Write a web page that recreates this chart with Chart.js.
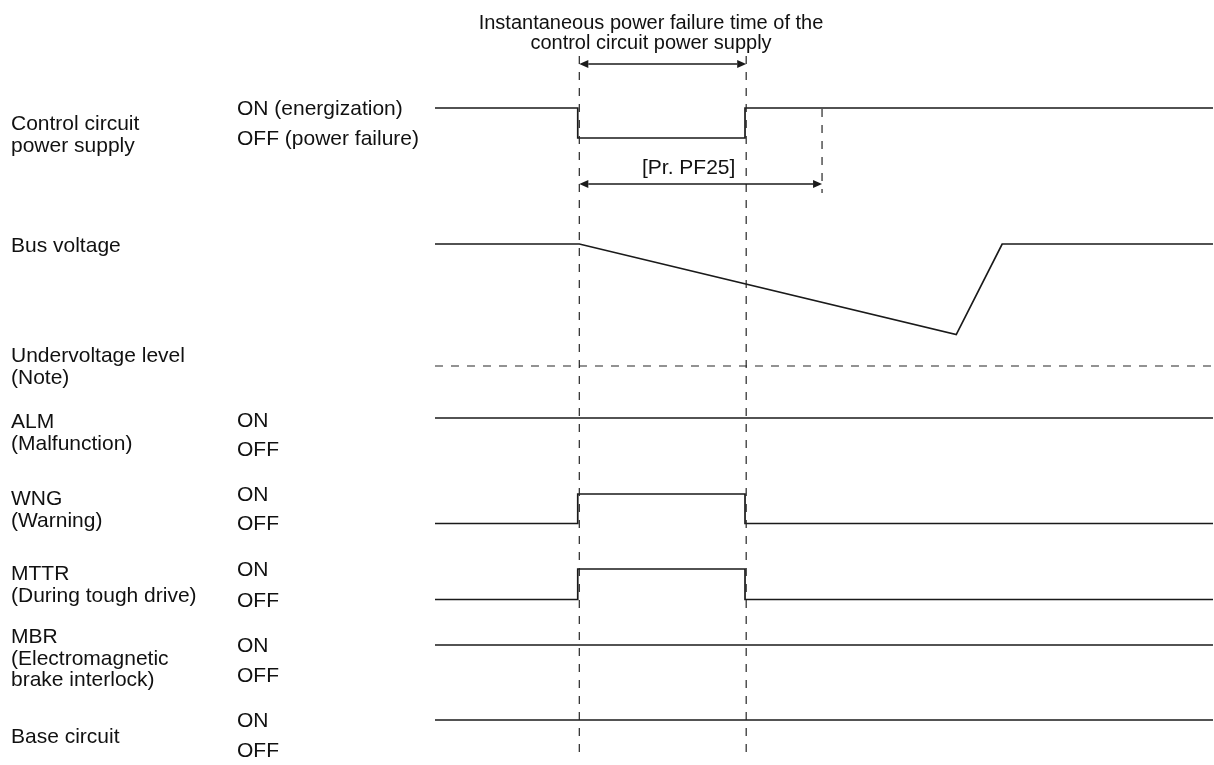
<!DOCTYPE html>
<html>
<head>
<meta charset="utf-8">
<title>Instantaneous power failure timing chart</title>
<script src="https://cdn.jsdelivr.net/npm/chart.js@4.4.1/dist/chart.umd.min.js"></script>
<style>
    body { margin: 0; background: #ffffff; }
    #wrap {
        position: relative;
        width: 1214px;
        height: 765px;
        overflow: hidden;
        font-family: "Liberation Sans", Arial, sans-serif;
        color: #111111;
    }
    #wrap canvas { position: absolute; left: 0; top: 0; }
    .lbl { position: absolute; font-size: 21px; line-height: 21.5px; white-space: nowrap; }
    .title { font-size: 20px; line-height: 20px; text-align: center; width: 400px; }
</style>
</head>
<body>
<div id="wrap">
    <canvas id="timing" width="1214" height="765"></canvas>

    <div class="lbl title" style="left:451px; top:12px;">Instantaneous power failure time of the<br>control circuit power supply</div>
    <div class="lbl" style="left:642px; top:156px;">[Pr. PF25]</div>

    <div class="lbl" style="left:11px; top:112px;">Control circuit<br>power supply</div>
    <div class="lbl" style="left:237px; top:97px;">ON (energization)</div>
    <div class="lbl" style="left:237px; top:127px;">OFF (power failure)</div>

    <div class="lbl" style="left:11px; top:234px;">Bus voltage</div>
    <div class="lbl" style="left:11px; top:344px;">Undervoltage level<br>(Note)</div>

    <div class="lbl" style="left:11px; top:410px;">ALM<br>(Malfunction)</div>
    <div class="lbl" style="left:237px; top:409px;">ON</div>
    <div class="lbl" style="left:237px; top:438px;">OFF</div>

    <div class="lbl" style="left:11px; top:487px;">WNG<br>(Warning)</div>
    <div class="lbl" style="left:237px; top:483px;">ON</div>
    <div class="lbl" style="left:237px; top:512px;">OFF</div>

    <div class="lbl" style="left:11px; top:562px;">MTTR<br>(During tough drive)</div>
    <div class="lbl" style="left:237px; top:558px;">ON</div>
    <div class="lbl" style="left:237px; top:589px;">OFF</div>

    <div class="lbl" style="left:11px; top:625px;">MBR<br>(Electromagnetic<br>brake interlock)</div>
    <div class="lbl" style="left:237px; top:634px;">ON</div>
    <div class="lbl" style="left:237px; top:664px;">OFF</div>

    <div class="lbl" style="left:11px; top:725px;">Base circuit</div>
    <div class="lbl" style="left:237px; top:709px;">ON</div>
    <div class="lbl" style="left:237px; top:739px;">OFF</div>
</div>

<script>
// Event times (arbitrary time units: 0 = left end of the traces, 100 = right end)
const tStart = 0;
const tFall = 18.35;      // control power drops / WNG, MTTR switch on
const tRise = 39.85;      // control power back / WNG, MTTR switch off
const tEnd = 100;
const markerTimes = [18.55, 40.0];   // dashed guide lines
const tPF25End = 49.75;              // end of [Pr. PF25]

// Logic signals (1 = ON, 0 = OFF), state holds from each time until the next
const stepTimes = [tStart, tFall, tRise, tEnd];
const controlPower = [1, 0, 1, 1];
const almState = [1, 1, 1, 1];
const wngState = [0, 1, 0, 0];
const mttrState = [0, 1, 0, 0];
const mbrState = [1, 1, 1, 1];
const baseState = [1, 1, 1, 1];

// Bus voltage in % of nominal
const busTimes = [tStart, 18.55, 67.0, 72.9, tEnd];
const busVoltage = [100, 100, 74, 100, 100];
const undervoltageLevel = 65;

// Layout: pixel rows for the ON / OFF level of each trace
const rowControl = { on: 108, off: 138 };
const rowAlm = { on: 418, off: 448 };
const rowWng = { on: 494, off: 523.5 };
const rowMttr = { on: 569, off: 599.5 };
const rowMbr = { on: 645, off: 675 };
const rowBase = { on: 720, off: 750 };
const busTop = 244;          // row of 100 %
const busPxPerPercent = 3.486;
const guideTop = 56;
const guideBottom = 752;
const pfGuideTop = 109;
const pfGuideBottom = 193;

const dimArrows = [
    { from: markerTimes[0], to: markerTimes[1], y: 64 },
    { from: markerTimes[0], to: tPF25End, y: 184 }
];

const lineColor = '#1a1a1a';
const dashColor = '#262626';

function stateLine(states, row) {
    return stepTimes.map((t, i) => ({ x: t, y: row.off + (row.on - row.off) * states[i] }));
}

function busY(v) {
    return busTop + (100 - v) * busPxPerPercent;
}

function signalDataset(data) {
    return {
        data: data,
        showLine: true,
        stepped: 'before',
        borderColor: lineColor,
        borderWidth: 1.7,
        pointRadius: 0,
        fill: false
    };
}

function dashedDataset(data) {
    return {
        data: data,
        showLine: true,
        borderColor: dashColor,
        borderWidth: 1.2,
        borderDash: [8, 8],
        pointRadius: 0,
        fill: false
    };
}

// Build datasets
const datasets = [];

markerTimes.forEach(t => {
    datasets.push(dashedDataset([{ x: t, y: guideTop }, { x: t, y: guideBottom }]));
});
datasets.push(dashedDataset([{ x: tPF25End, y: pfGuideTop }, { x: tPF25End, y: pfGuideBottom }]));
datasets.push(dashedDataset([
    { x: tStart, y: busY(undervoltageLevel) },
    { x: tEnd, y: busY(undervoltageLevel) }
]));

datasets.push(signalDataset(stateLine(controlPower, rowControl)));
datasets.push(signalDataset(stateLine(almState, rowAlm)));
datasets.push(signalDataset(stateLine(wngState, rowWng)));
datasets.push(signalDataset(stateLine(mttrState, rowMttr)));
datasets.push(signalDataset(stateLine(mbrState, rowMbr)));
datasets.push(signalDataset(stateLine(baseState, rowBase)));

const busDs = signalDataset(busTimes.map((t, i) => ({ x: t, y: busY(busVoltage[i]) })));
busDs.stepped = false;
busDs.tension = 0;
datasets.push(busDs);

// Double-headed dimension arrows
const arrowPlugin = {
    id: 'dimArrows',
    afterDatasetsDraw(chart) {
        const ctx = chart.ctx;
        const xs = chart.scales.x;
        const ys = chart.scales.y;
        const head = 9;
        const half = 4;
        ctx.save();
        ctx.strokeStyle = lineColor;
        ctx.fillStyle = lineColor;
        ctx.lineWidth = 1.3;
        dimArrows.forEach(a => {
            const x1 = xs.getPixelForValue(a.from);
            const x2 = xs.getPixelForValue(a.to);
            const y = ys.getPixelForValue(a.y);
            ctx.beginPath();
            ctx.moveTo(x1 + head, y);
            ctx.lineTo(x2 - head, y);
            ctx.stroke();
            ctx.beginPath();
            ctx.moveTo(x1, y);
            ctx.lineTo(x1 + head, y - half);
            ctx.lineTo(x1 + head, y + half);
            ctx.closePath();
            ctx.fill();
            ctx.beginPath();
            ctx.moveTo(x2, y);
            ctx.lineTo(x2 - head, y - half);
            ctx.lineTo(x2 - head, y + half);
            ctx.closePath();
            ctx.fill();
        });
        ctx.restore();
    }
};

const ctx = document.getElementById('timing').getContext('2d');
const timingChart = new Chart(ctx, {
    type: 'scatter',
    data: { datasets: datasets },
    options: {
        responsive: false,
        animation: false,
        devicePixelRatio: 1,
        layout: { padding: 0 },
        plugins: {
            legend: { display: false },
            tooltip: { enabled: false }
        },
        scales: {
            x: { type: 'linear', display: false, min: -55.91, max: 100.13 },
            y: { type: 'linear', display: false, min: 0, max: 765, reverse: true }
        }
    },
    plugins: [arrowPlugin]
});
</script>
</body>
</html>
